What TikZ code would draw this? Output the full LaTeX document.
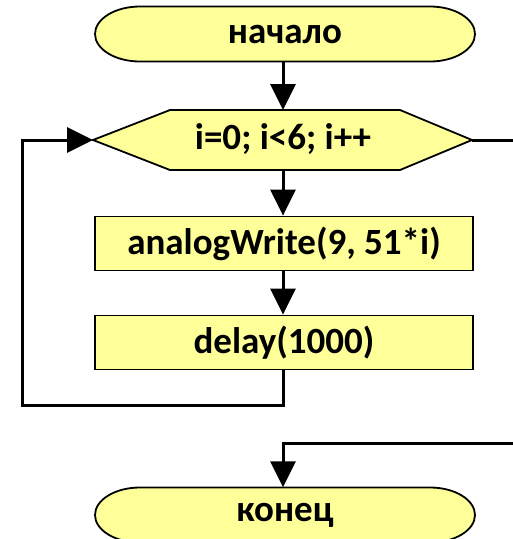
\documentclass[tikz,border=0pt]{standalone}
\usepackage{fontspec}
\setmainfont{Carlito}
\usetikzlibrary{arrows.meta,shapes.misc,shapes.geometric}
\definecolor{boxfill}{HTML}{FFFF99}
\begin{document}
\begin{tikzpicture}[x=1pt,y=-1pt,
  every node/.style={font=\bfseries\fontsize{37}{42}\selectfont, text=black},
  termtxt/.style={minimum width=380pt, minimum height=55pt, inner sep=0pt},
  outline/.style={draw, line width=1.8pt, fill=boxfill},
  proc/.style={draw, line width=1.8pt, fill=boxfill, rectangle, minimum width=378pt, minimum height=54pt, inner sep=0pt},
  conn/.style={line width=3pt, -{Triangle[length=26pt,width=25pt]}},
  plain/.style={line width=3pt}]
\useasboundingbox (0,0) rectangle (513,539);
% start terminal
\path[outline] (140,6.5) -- (430,6.5) arc[start angle=-90, end angle=90, x radius=45, y radius=27.5]
  -- (140,61.5) arc[start angle=90, end angle=270, x radius=45, y radius=27.5] -- cycle;
\node[termtxt] (start) at (285,34) {начало};
% hexagon
\path[outline] (93,140) -- (170,110) -- (400,110) -- (472,140) -- (400,170) -- (170,170) -- cycle;
\node (loop) at (283,139) {i=0; i<6; i++};
\coordinate (hexL) at (93,140);
\coordinate (hexR) at (472,140);
\coordinate (hexT) at (283,110);
\coordinate (hexB) at (283,170);
\node[proc] (aw) at (284,243.5) {analogWrite(9, 51*i)};
\node[proc] (dl) at (284,342.5) {delay(1000)};
% end terminal
\path[outline] (140,487.5) -- (430,487.5) arc[start angle=-90, end angle=90, x radius=45, y radius=27.5]
  -- (140,542.5) arc[start angle=90, end angle=270, x radius=45, y radius=27.5] -- cycle;
\node[termtxt] (end) at (285,515) {конец};
\coordinate (r1) at (515,140);
\coordinate (r2) at (515,443);
\coordinate (r3) at (283,443);
\coordinate (b1) at (283,405);
\coordinate (b2) at (22,405);
\coordinate (b3) at (22,140);
\draw[conn] (start.south -| hexT) -- (hexT);
\draw[conn] (hexB) -- (aw.north -| hexB);
\draw[conn] (aw.south -| hexB) -- (dl.north -| hexB);
\draw[conn] (dl.south -| b1) -- (b1) -- (b2) -- (b3) -- (hexL);
\draw[plain] (hexR) -- (r1);
\draw[conn] (r2) -- (r3) -- (end.north -| r3);
\end{tikzpicture}
\end{document}
